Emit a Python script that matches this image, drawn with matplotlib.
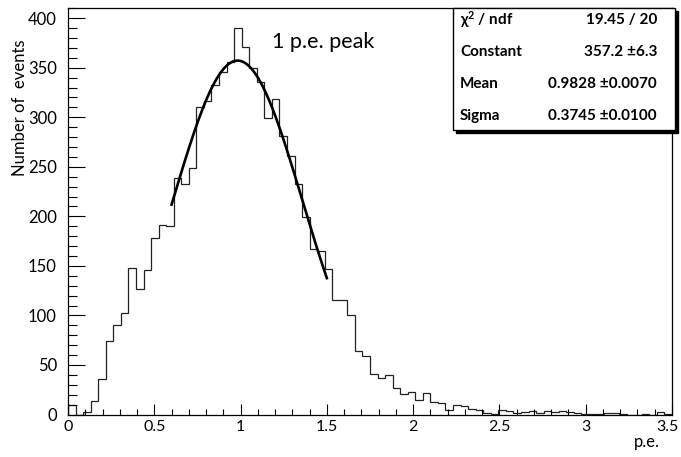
import numpy as np
import matplotlib
matplotlib.use('Agg')
import matplotlib.pyplot as plt
from matplotlib.patches import Rectangle
from matplotlib.ticker import MultipleLocator
from matplotlib.transforms import ScaledTranslation

plt.rcParams['font.family'] = ['Lato', 'DejaVu Sans']
plt.rcParams['mathtext.default'] = 'regular'

# histogram: 80 bins from 0 to 3.5 p.e.
x_lo, x_hi, n_bins = 0.0, 3.5, 80
counts = [10, 0, 3, 14, 36, 74, 90, 102, 148, 127,
          146, 178, 191, 190, 239, 233, 249, 310, 316, 333,
          346, 356, 390, 371, 350, 336, 299, 318, 281, 261,
          233, 199, 167, 165, 147, 116, 116, 100, 64, 59,
          41, 37, 40, 27, 21, 23, 15, 22, 13, 12,
          5, 10, 9, 6, 5, 2, 1, 5, 4, 2,
          3, 4, 2, 4, 3, 4, 3, 2, 1, 1,
          1, 2, 2, 1, 0, 0, 1, 0, 3, 1]

# gaussian fit result (from stats box), fitted on 0.6 - 1.5
fit_const, fit_mean, fit_sigma = 357.2, 0.9828, 0.3745
fit_range = (0.6, 1.5)

stat_names = ['\u03c7$^{2}$ / ndf', 'Constant', 'Mean', 'Sigma']
stat_values = ['19.45 / 20', '357.2 \u00b16.3', '0.9828 \u00b10.0070', '0.3745 \u00b10.0100']

xtick_labels = ['0', '0.5', '1', '1.5', '2', '2.5', '3', '3.5']

W, H = 681, 457
fig = plt.figure(figsize=(W / 100, H / 100), dpi=100)
ax = fig.add_axes([68 / W, 1 - 414.5 / H, (672 - 68) / W, (414.5 - 8.3) / H])

edges = np.linspace(x_lo, x_hi, n_bins + 1)
ax.stairs(counts, edges, color='#222222', lw=0.9, baseline=0)

xf = np.linspace(fit_range[0], fit_range[1], 200)
ax.plot(xf, fit_const * np.exp(-0.5 * ((xf - fit_mean) / fit_sigma) ** 2), color='k', lw=1.9)

ax.set_xlim(x_lo, x_hi)
ax.set_ylim(0, 410)
ax.xaxis.set_minor_locator(MultipleLocator(0.1))
ax.set_xticks(np.arange(0, 3.51, 0.5))
ax.set_xticklabels(xtick_labels)
ax.yaxis.set_major_locator(MultipleLocator(50))
ax.yaxis.set_minor_locator(MultipleLocator(10))
ax.tick_params(axis='x', which='major', direction='in', length=8, width=0.8, labelsize=11.5, pad=4)
ax.tick_params(axis='x', which='minor', direction='in', length=4, width=0.8)
ax.tick_params(axis='y', which='major', direction='in', length=12.5, width=0.8, labelsize=12, pad=8)
ax.tick_params(axis='y', which='minor', direction='in', length=6.5, width=0.8)
for s in ax.spines.values():
    s.set_linewidth(0.9)
# keep the last label inside the canvas
last = ax.get_xticklabels()[-1]
last.set_transform(last.get_transform() + ScaledTranslation(-3 / 72, 0, fig.dpi_scale_trans))

fig.text(20 / W, 1 - 40 / H, 'Number of  events', rotation=90, ha='center', va='top', fontsize=12)
fig.text(660 / W, 1 - 442 / H, 'p.e.', ha='right', va='center', fontsize=12)
ax.text(1.18, 376, '1 p.e. peak', fontsize=15.5, ha='left', va='center')

# stats box with shadow
bx0, bx1, by0, by1 = 453 / W, 675 / W, 1 - 130 / H, 1 - 8 / H
sh = 2.5
fig.patches.append(Rectangle((bx0 + sh / W, by0 - sh / H), bx1 - bx0, by1 - by0,
                             transform=fig.transFigure, facecolor='k', edgecolor='k', zorder=5))
fig.patches.append(Rectangle((bx0, by0), bx1 - bx0, by1 - by0,
                             transform=fig.transFigure, facecolor='white', edgecolor='k', lw=1, zorder=6))
for i, (nm, val) in enumerate(zip(stat_names, stat_values)):
    yy = 1 - (20 + 32 * i) / H
    fig.text(460 / W, yy, nm, ha='left', va='center', fontsize=11, fontweight='bold', zorder=7)
    fig.text(657 / W, yy, val, ha='right', va='center', fontsize=11, fontweight='bold', zorder=7)

fig.savefig('out.png', dpi=100)
